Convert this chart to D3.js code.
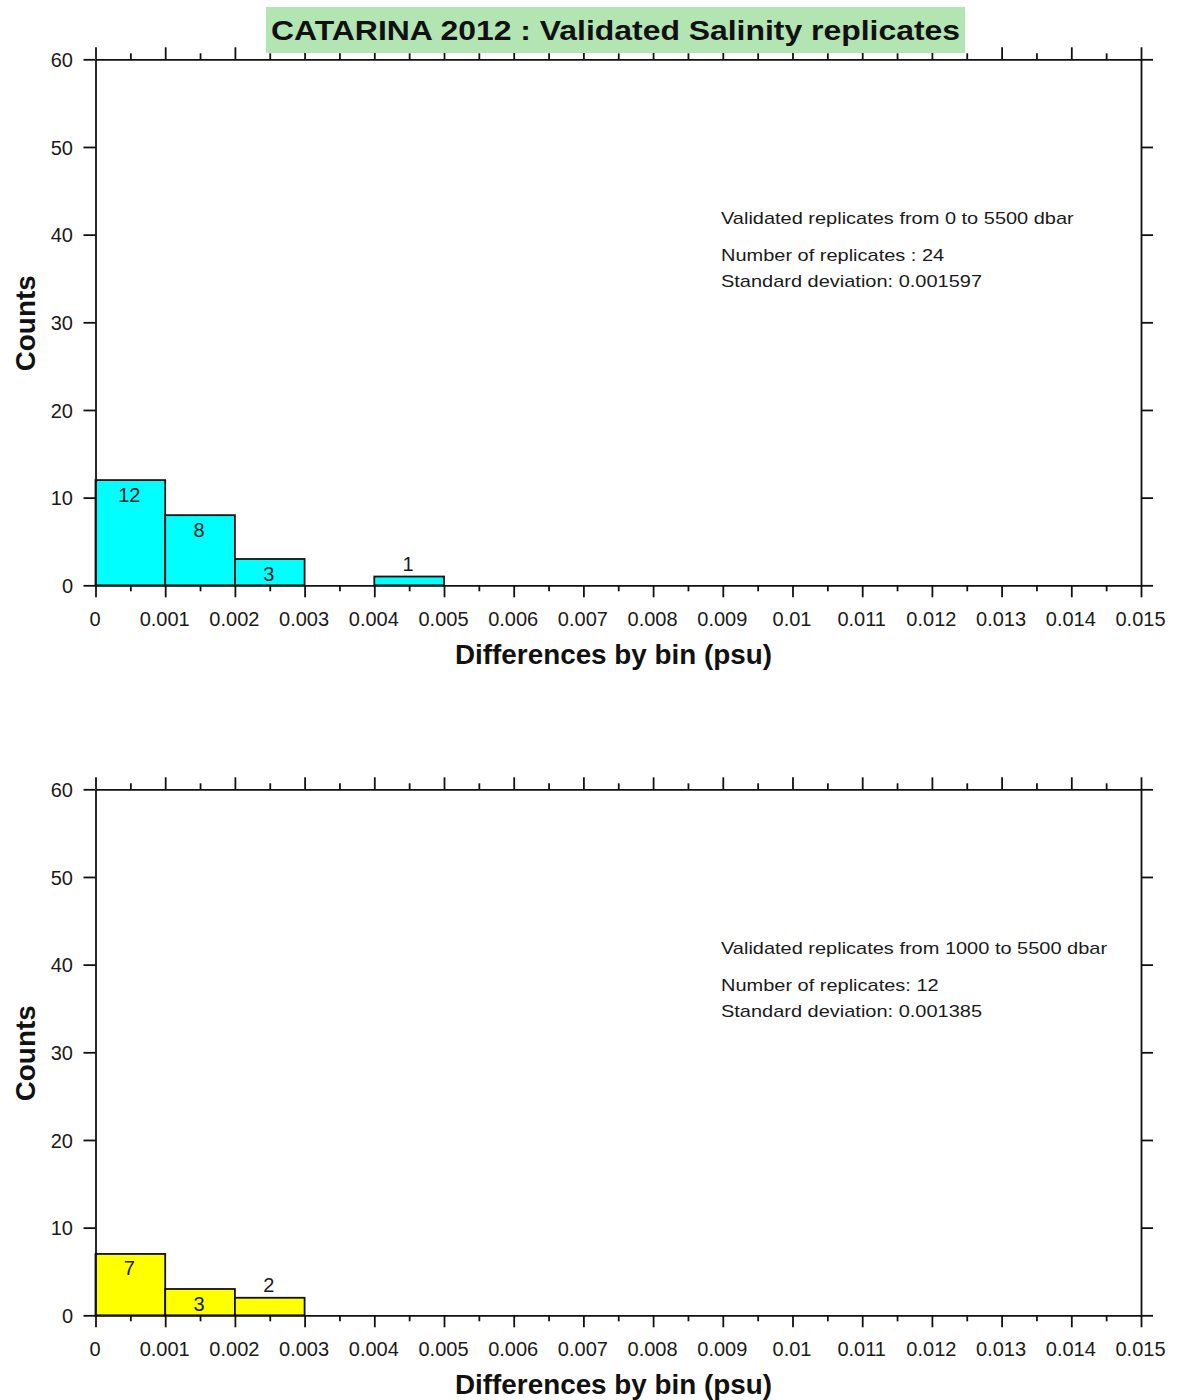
<!DOCTYPE html>
<html>
<head>
<meta charset="utf-8">
<script src="https://cdn.jsdelivr.net/npm/d3@7"></script>
<style>
  html, body { margin: 0; padding: 0; background: #ffffff; }
  svg { display: block; font-family: "Liberation Sans", Arial, Helvetica, sans-serif; }
  .axis path, .axis line { stroke: #111; stroke-width: 1.8; }
  .axis text { fill: #1a1a1a; font-size: 20px; }
</style>
</head>
<body>
<svg id="chart" width="1177" height="1400"></svg>
<script>
// Histogram bins (lower edges, psu) and counts for each depth range
const binWidth = 0.001;
const binsAllDepths = [0, 0.001, 0.002, 0.003, 0.004];
const countsAllDepths = [12, 8, 3, 0, 1];
const binsDeep = [0, 0.001, 0.002];
const countsDeep = [7, 3, 2];

// Axis ticks and labels
const xTicks = [0, 0.001, 0.002, 0.003, 0.004, 0.005, 0.006, 0.007, 0.008, 0.009, 0.01, 0.011, 0.012, 0.013, 0.014, 0.015];
const xTickLabels = ["0", "0.001", "0.002", "0.003", "0.004", "0.005", "0.006", "0.007", "0.008", "0.009", "0.01", "0.011", "0.012", "0.013", "0.014", "0.015"];
const xMinorTicks = [0.0005, 0.0015, 0.0025, 0.0035, 0.0045, 0.0055, 0.0065, 0.0075, 0.0085, 0.0095, 0.0105, 0.0115, 0.0125, 0.0135, 0.0145];
const yTicks = [0, 10, 20, 30, 40, 50, 60];
const yTickLabels = ["0", "10", "20", "30", "40", "50", "60"];

// Text blocks
const chartTitle = "CATARINA 2012 : Validated Salinity replicates";
const xTitle = "Differences by bin (psu)";
const yTitle = "Counts";
const notesAllDepths = ["Validated replicates from 0 to 5500 dbar", "Number of replicates : 24", "Standard deviation: 0.001597"];
const notesDeep = ["Validated replicates from 1000 to 5500 dbar", "Number of replicates: 12", "Standard deviation: 0.001385"];

const svg = d3.select("#chart");

const left = 95.5, right = 1141, plotH = 526;
const majorLen = 12, minorLen = 6;

const x = d3.scaleLinear().domain([0, 0.015]).range([left, right]);

const panels = [
  { top: 59.3, bins: binsAllDepths, counts: countsAllDepths, fill: "#00ffff", notes: notesAllDepths },
  { top: 789.3, bins: binsDeep, counts: countsDeep, fill: "#ffff00", notes: notesDeep }
];

function stretchText(sel, factor) {
  sel.each(function () {
    const w = this.getComputedTextLength();
    d3.select(this).attr("textLength", w * factor).attr("lengthAdjust", "spacingAndGlyphs");
  });
}

panels.forEach(p => {
  const y = d3.scaleLinear().domain([0, 60]).range([p.top + plotH, p.top]);
  const g = svg.append("g");
  const bottom = p.top + plotH;

  // Histogram bars
  const data = p.bins.map((b, i) => ({ b: b, c: p.counts[i] })).filter(d => d.c > 0);
  g.selectAll("rect.bar").data(data).join("rect")
    .attr("class", "bar")
    .attr("x", d => x(d.b))
    .attr("width", d => x(d.b + binWidth) - x(d.b))
    .attr("y", d => y(d.c))
    .attr("height", d => y(0) - y(d.c))
    .attr("fill", p.fill)
    .attr("stroke", "#111")
    .attr("stroke-width", 1.8);

  // Count labels: inside the bar when tall enough, otherwise just above it
  g.selectAll("text.count").data(data).join("text")
    .attr("class", "count")
    .attr("x", d => x(d.b + binWidth / 2) - 1)
    .attr("y", d => (y(0) - y(d.c) >= 20) ? y(d.c) + 21.5 : y(d.c) - 6)
    .attr("text-anchor", "middle")
    .attr("font-size", 20)
    .attr("fill", "#1a1a1a")
    .text(d => d.c);

  // Bottom axis with labels
  const xb = g.append("g").attr("class", "axis")
    .attr("transform", `translate(0,${bottom})`)
    .call(d3.axisBottom(x).tickValues(xTicks).tickSize(majorLen).tickSizeOuter(0)
      .tickFormat((d, i) => xTickLabels[i]));
  xb.selectAll("text").attr("dy", null).attr("y", 40.7).attr("x", -1);
  g.append("g").attr("class", "axis")
    .attr("transform", `translate(0,${bottom})`)
    .call(d3.axisBottom(x).tickValues(xMinorTicks).tickSize(minorLen).tickSizeOuter(0).tickFormat(""))
    .select(".domain").remove();

  // Top axis, ticks only
  g.append("g").attr("class", "axis")
    .attr("transform", `translate(0,${p.top})`)
    .call(d3.axisTop(x).tickValues(xTicks).tickSize(majorLen).tickSizeOuter(0).tickFormat(""));
  g.append("g").attr("class", "axis")
    .attr("transform", `translate(0,${p.top})`)
    .call(d3.axisTop(x).tickValues(xMinorTicks).tickSize(minorLen).tickSizeOuter(0).tickFormat(""))
    .select(".domain").remove();

  // Left axis with labels
  const yl = g.append("g").attr("class", "axis")
    .attr("transform", `translate(${left},0)`)
    .call(d3.axisLeft(y).tickValues(yTicks).tickSize(majorLen).tickSizeOuter(0)
      .tickFormat((d, i) => yTickLabels[i]));
  yl.selectAll("text").attr("x", -22.5).attr("dy", "0.36em");

  // Right axis, ticks only
  g.append("g").attr("class", "axis")
    .attr("transform", `translate(${right},0)`)
    .call(d3.axisRight(y).tickValues(yTicks).tickSize(majorLen).tickSizeOuter(0).tickFormat(""));

  // Axis titles
  g.append("text")
    .attr("x", 613.5).attr("y", bottom + 78.2)
    .attr("text-anchor", "middle")
    .attr("font-size", 27).attr("font-weight", "bold").attr("fill", "#111")
    .attr("textLength", 317).attr("lengthAdjust", "spacingAndGlyphs")
    .text(xTitle);
  g.append("text")
    .attr("transform", `translate(35,${p.top + 264}) rotate(-90)`)
    .attr("text-anchor", "middle")
    .attr("font-size", 27).attr("font-weight", "bold").attr("fill", "#111")
    .attr("textLength", 96).attr("lengthAdjust", "spacingAndGlyphs")
    .text(yTitle);

  // Statistics block
  const noteY = [164.7, 201.4, 227.7];
  g.selectAll("text.note").data(p.notes).join("text")
    .attr("class", "note")
    .attr("x", 721)
    .attr("y", (d, i) => p.top + noteY[i])
    .attr("font-size", 17)
    .attr("fill", "#1a1a1a")
    .text(d => d)
    .call(stretchText, 1.175);
});

// Title on its green band
svg.append("rect")
  .attr("x", 266).attr("y", 7).attr("width", 699).attr("height", 46)
  .attr("fill", "#b3e5b3");
svg.append("text")
  .attr("x", 615.5).attr("y", 39.5)
  .attr("text-anchor", "middle")
  .attr("font-size", 28).attr("font-weight", "bold").attr("fill", "#111")
  .attr("textLength", 689).attr("lengthAdjust", "spacingAndGlyphs")
  .text(chartTitle);
</script>
</body>
</html>
